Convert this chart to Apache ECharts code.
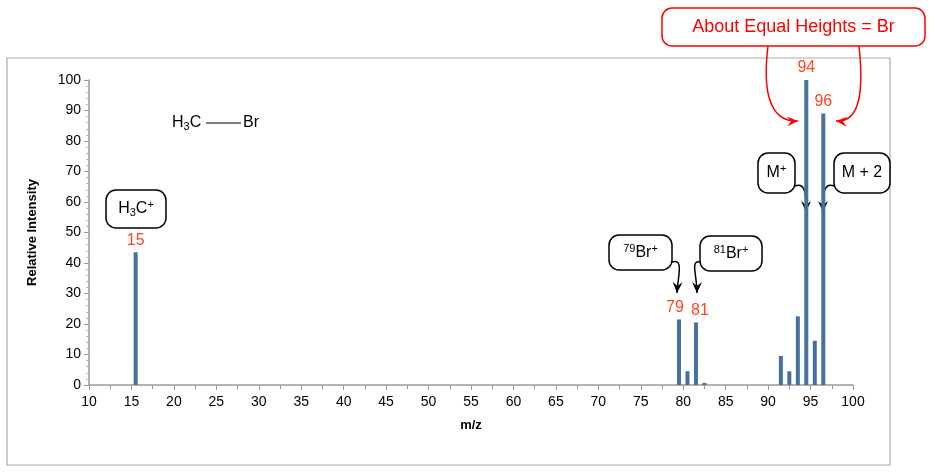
<!DOCTYPE html><html><head><meta charset="utf-8"><script src="https://cdn.jsdelivr.net/npm/echarts@6/dist/echarts.min.js"></script>
<style>html,body{margin:0;background:#fff}#c{width:935px;height:474px}</style></head><body><div id="c"></div><script>
const mz=[15,79,80,81,82,91,92,93,94,95,96];
const intensity=[43.5,21.5,4.5,20.5,0.7,9.5,4.5,22.5,100,14.5,89];
const labeled=[15,79,81,94,96];
const xTicks=[10,100,5];
const yTicks=[0,100,10];
const chart=echarts.init(document.getElementById('c'));
const F='Arial, Liberation Sans, sans-serif';
function box(x,y,w,h,rich,text,color,fs){return [{type:'rect',shape:{x:x,y:y,width:w,height:h,r:10},style:{fill:'#fff',stroke:color||'#000',lineWidth:1.5}},
{type:'text',x:x+w/2,y:y+h/2,style:{text:text,rich:rich,align:'center',verticalAlign:'middle',fontSize:fs||16,fontFamily:F,fill:color||'#000'}}];}
function arrow(pts,color){const c=color||'#000';const [a,b,c1,d]=pts;
const g=[{type:'bezierCurve',shape:{x1:a[0],y1:a[1],cpx1:b[0],cpy1:b[1],cpx2:c1[0],cpy2:c1[1],x2:d[0],y2:d[1]},style:{stroke:c,lineWidth:1.5,fill:null}}];
const ang=Math.atan2(d[1]-c1[1],d[0]-c1[0]);const L=11,W=5;
const p1=[d[0]-L*Math.cos(ang)+W*Math.sin(ang),d[1]-L*Math.sin(ang)-W*Math.cos(ang)];
const p2=[d[0]-L*Math.cos(ang)-W*Math.sin(ang),d[1]-L*Math.sin(ang)+W*Math.cos(ang)];
const p3=[d[0]-7*Math.cos(ang),d[1]-7*Math.sin(ang)];
g.push({type:'polygon',shape:{points:[d,p1,p3,p2]},style:{fill:c}});return g;}
const sup={sup:{fontSize:11,verticalAlign:'top',padding:[0,0,8,0],fontFamily:F},sub:{fontSize:11,padding:[8,0,0,0],fontFamily:F},n:{fontSize:16,fontFamily:F}};
let gr=[{type:'rect',shape:{x:7,y:58,width:883,height:407},style:{fill:null,stroke:'#aaa',lineWidth:1.2},z:-1}];
gr=gr.concat(box(662,8,263,38,null,'About Equal Heights = Br','#f00',18));
gr=gr.concat(box(106,190,60,38,sup,'{n|H}{sub|3}{n|C}{sup|+}'));
gr=gr.concat(box(609,235,63,35,sup,'{sup|79}{n|Br}{sup|+}'));
gr=gr.concat(box(700,236,62,35,sup,'{sup|81}{n|Br}{sup|+}'));
gr=gr.concat(box(758,153,37,40,sup,'{n|M}{sup|+}'));
gr=gr.concat(box(834,153,56,40,null,'M + 2'));
gr.push({type:'text',x:172,y:123,style:{text:'{n|H}{sub|3}{n|C}',rich:sup,verticalAlign:'middle',fill:'#000'}});
gr.push({type:'line',shape:{x1:206,y1:123,x2:241,y2:123},style:{stroke:'#000',lineWidth:1.2}});
gr.push({type:'text',x:243,y:123,style:{text:'Br',fontSize:16,fontFamily:F,verticalAlign:'middle',fill:'#000'}});
gr=gr.concat(arrow([[768,46],[760,110],[780,122],[798,121]],'#f00'));
gr=gr.concat(arrow([[859,46],[866,110],[852,122],[836,121]],'#f00'));
gr=gr.concat(arrow([[672,262],[684,258],[678,275],[677,293]]));
gr=gr.concat(arrow([[700,262],[690,260],[697,275],[697,293]]));
gr=gr.concat(arrow([[795,186],[806,182],[806,195],[806,212]]));
gr=gr.concat(arrow([[834,186],[823,182],[823,195],[823,212]]));
const offs={79:[-4,0],81:[4,0]};
chart.setOption({animation:false,
grid:{left:89,right:82,top:80,bottom:89},
xAxis:[{type:'value',min:xTicks[0],max:xTicks[1],interval:xTicks[2],name:'m/z',nameLocation:'middle',nameGap:34,
nameTextStyle:{fontWeight:'bold',fontSize:13,fontFamily:F,color:'#000'},
axisLine:{lineStyle:{color:'#999',width:1.5}},axisTick:{show:true,lineStyle:{color:'#999'},length:5},minorTick:{show:true,splitNumber:2,length:4,lineStyle:{color:'#999'}},
splitLine:{show:false},axisLabel:{fontSize:14,fontFamily:F,color:'#000',margin:10}},
{type:'value',min:xTicks[0]-0.5,max:xTicks[1]-0.5,show:false}],
yAxis:{type:'value',min:yTicks[0],max:yTicks[1],interval:yTicks[2],name:'Relative Intensity',nameLocation:'middle',nameGap:50,
nameTextStyle:{fontWeight:'bold',fontSize:13,fontFamily:F,color:'#000'},
axisLine:{show:true,lineStyle:{color:'#999',width:1.5}},axisTick:{show:true,lineStyle:{color:'#999'},length:5},minorTick:{show:true,splitNumber:5,length:3,lineStyle:{color:'#bbb'}},
splitLine:{show:false},axisLabel:{fontSize:14,fontFamily:F,color:'#000'}},
series:[{type:'bar',xAxisIndex:1,barWidth:4,itemStyle:{color:'#45709f'},
data:mz.map((x,i)=>({value:[x,intensity[i]],label:{show:labeled.includes(x),position:'top',distance:4,offset:offs[x]||[0,0],color:'#f42',fontSize:16,fontFamily:F,formatter:String(x)}}))}],
graphic:gr});
</script></body></html>
